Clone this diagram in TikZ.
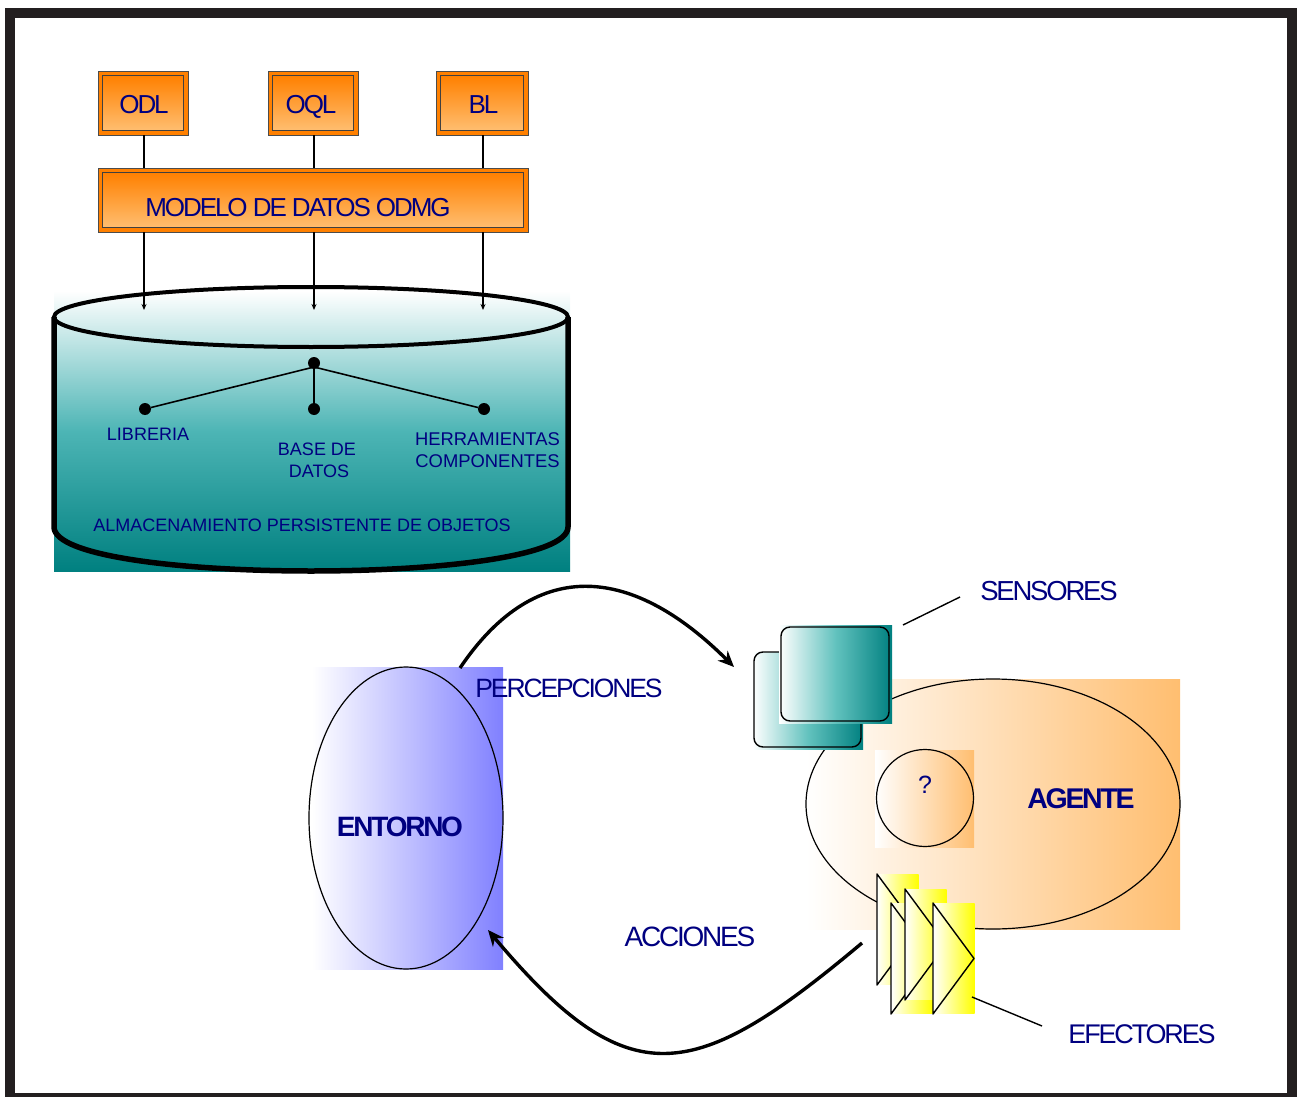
\documentclass[tikz,border=0pt]{standalone}
\usepackage{fontspec}
\setmainfont{Liberation Sans}
\newfontfamily\tightfont[LetterSpace=-8]{Liberation Sans}
\usetikzlibrary{arrows.meta}
\usetikzlibrary{shapes.geometric}
\definecolor{labelblue}{HTML}{000080}
\definecolor{framegray}{HTML}{231F20}
\definecolor{darkteal}{HTML}{008080}
\definecolor{midteal}{HTML}{62C2BE}
\definecolor{tankteal}{HTML}{4DB5B5}
\definecolor{boxorange}{HTML}{FF8000}
\definecolor{paleorange}{HTML}{FFBE70}
\definecolor{softblue}{HTML}{8080FF}
\tikzset{
  orangebox/.style={draw=black!70, line width=0.8pt, fill=boxorange, inner sep=0pt},
  innerframe/.style={draw=black!75, line width=0.8pt, top color=boxorange, bottom color=paleorange},
  bigtext/.style={text=labelblue, inner sep=0pt, font=\tightfont\fontsize{26}{26}\selectfont},
  looptext/.style={text=labelblue, inner sep=0pt, font=\tightfont\fontsize{#1}{#1}\selectfont},
  boldtext/.style={text=labelblue, inner sep=0pt, font=\tightfont\bfseries\fontsize{#1}{#1}\selectfont},
  smalltext/.style={text=labelblue, inner sep=0pt, font=\fontsize{18}{18}\selectfont},
  widetext/.style={text=labelblue, inner sep=0pt, font=\fontsize{18.4}{18.4}\selectfont},
  thinline/.style={line width=1.2pt},
  loopline/.style={line width=3.4pt, -{Stealth[length=16pt,width=14pt]}},
  dotnode/.style={circle, fill=black, inner sep=0pt, minimum size=12pt},
  tealbg/.style={left color=white, right color=darkteal, middle color=midteal, inner sep=0pt},
  tealcard/.style={draw=black, line width=1.4pt, rounded corners=9pt, inner sep=0pt},
  peachbg/.style={left color=white, right color=paleorange, inner sep=0pt},
  blobline/.style={draw=black, line width=1.2pt, ellipse, inner sep=0pt},
}
\begin{document}
\begin{tikzpicture}[x=1pt,y=-1pt]
\useasboundingbox (0,0) rectangle (1302,1097);
\draw[framegray, line width=10.5pt] (10,13) rectangle (1292,1098);

\node[orangebox, minimum width=90pt, minimum height=64pt] at (143,103) (odl) {};
\node[orangebox, minimum width=90pt, minimum height=64pt] at (313,103) (oql) {};
\node[orangebox, minimum width=92pt, minimum height=64pt] at (482,103) (bl) {};
\node[orangebox, minimum width=430pt, minimum height=64pt] at (313,200) (modelo) {};
\foreach \n in {odl,oql,bl,modelo}
  \draw[innerframe] ([xshift=5pt,yshift=-5pt]\n.north west) rectangle ([xshift=-5pt,yshift=5pt]\n.south east);
\node[bigtext] at (144,105) {ODL};
\node[bigtext] at (311,107) {OQL};
\node[bigtext] at (483.5,105) {BL};
\node[bigtext] at (298,208) {MODELO DE DATOS ODMG};

\node[top color=white, bottom color=darkteal, middle color=tankteal, minimum width=516pt, minimum height=280pt, inner sep=0pt] at (312,431) (tank) {};
\node[draw=black, line width=4pt, ellipse, minimum width=514pt, minimum height=60pt, inner sep=0pt] at (311,317) (lid) {};
\draw[line width=5.5pt, line join=round] (54,317) -- (54,527) .. controls (54,556) and (180,571) .. (311,571) .. controls (442,571) and (568,556) .. (568,527) -- (568,317);

\coordinate (odlend) at (144,310);
\coordinate (oqlend) at (314,310);
\coordinate (blend) at (483,310);
\draw[thinline] (odlend |- odl.south) -- (odlend |- modelo.north);
\draw[thinline] (oqlend |- oql.south) -- (oqlend |- modelo.north);
\draw[thinline] (blend |- bl.south) -- (blend |- modelo.north);
\draw[thinline, -{Stealth[length=6pt,width=5pt]}] (odlend |- modelo.south) -- (odlend);
\draw[thinline, -{Stealth[length=6pt,width=5pt]}] (oqlend |- modelo.south) -- (oqlend);
\draw[thinline, -{Stealth[length=6pt,width=5pt]}] (blend |- modelo.south) -- (blend);

\node[dotnode] at (314,363) (top) {};
\node[dotnode] at (145,409) (lib) {};
\node[dotnode] at (314,409) (base) {};
\node[dotnode] at (484,409) (herr) {};
\coordinate (hub) at (314,367);
\draw[line width=1.6pt] (lib) -- (hub);
\draw[line width=1.6pt] (base) -- (hub);
\draw[line width=1.6pt] (herr) -- (hub);
\node[smalltext] at (148,434) {LIBRERIA};
\node[smalltext] at (317,449) {BASE DE};
\node[smalltext] at (319,471) {DATOS};
\node[widetext] at (487.5,439) {HERRAMIENTAS};
\node[widetext] at (487.5,461) {COMPONENTES};
\node[smalltext] at (302,525) {ALMACENAMIENTO PERSISTENTE DE OBJETOS};

\node[left color=white, right color=softblue, minimum width=191pt, minimum height=302pt, inner sep=0pt] at (407.5,818) (entornobg) {};
\node[blobline, minimum width=194pt, minimum height=302pt] at (406,818) (entorno) {};
\node[boldtext=28] at (400,827) {ENTORNO};

\node[peachbg, minimum width=374pt, minimum height=250pt] at (993,804) (agentebg) {};
\node[blobline, minimum width=374pt, minimum height=250pt] at (993,804) (agente) {};
\node[boldtext=28.5] at (1081,799) {AGENTE};
\node[peachbg, minimum width=99pt, minimum height=97pt] at (924.5,798.5) (mentebg) {};
\node[blobline, minimum width=97pt, minimum height=97pt] at (925,798) (mente) {};
\node[text=labelblue, inner sep=0pt, font=\fontsize{25}{25}\selectfont] at (925,785) {?};

\node[tealbg, minimum width=110pt, minimum height=97pt] at (808,700.5) (backbg) {};
\node[tealcard, minimum width=107pt, minimum height=95pt] at (807.5,699.5) (backcard) {};
\node[tealbg, minimum width=113pt, minimum height=98pt] at (835.5,674) (frontbg) {};
\node[tealcard, minimum width=108pt, minimum height=94pt] at (835,674) (frontcard) {};
\coordinate (sensorfoot) at (903,625);
\coordinate (sensorhead) at (960,597);
\draw[line width=1.4pt] (sensorfoot) -- (sensorhead);
\node[looptext=27.5] at (1049,591) {SENSORES};

\foreach \x/\y in {877/874, 891/903, 905/889, 933/903} {
  \shade[left color=white, right color=yellow] (\x,\y) rectangle +(41.5,110.5);
  \draw[line width=1.4pt, line join=round] (\x,\y) -- +(41,55.5) -- +(0,111) -- cycle;
}
\coordinate (efectorfoot) at (972,997);
\coordinate (efectorhead) at (1042,1026);
\draw[line width=1.4pt] (efectorfoot) -- (efectorhead);
\node[looptext=27] at (1142,1034) {EFECTORES};

\coordinate (percepfoot) at (460,668);
\coordinate (percephead) at (734,667);
\draw[loopline] (percepfoot) to [out=56,in=135,looseness=1.3] (percephead);
\node[looptext=26.5] at (569,688) {PERCEPCIONES};

\coordinate (accionfoot) at (862,943);
\coordinate (accionhead) at (488,930);
\draw[loopline] (accionfoot) to [out=220,in=310,looseness=1.5] (accionhead);
\node[looptext=28] at (690,937) {ACCIONES};
\end{tikzpicture}
\end{document}
